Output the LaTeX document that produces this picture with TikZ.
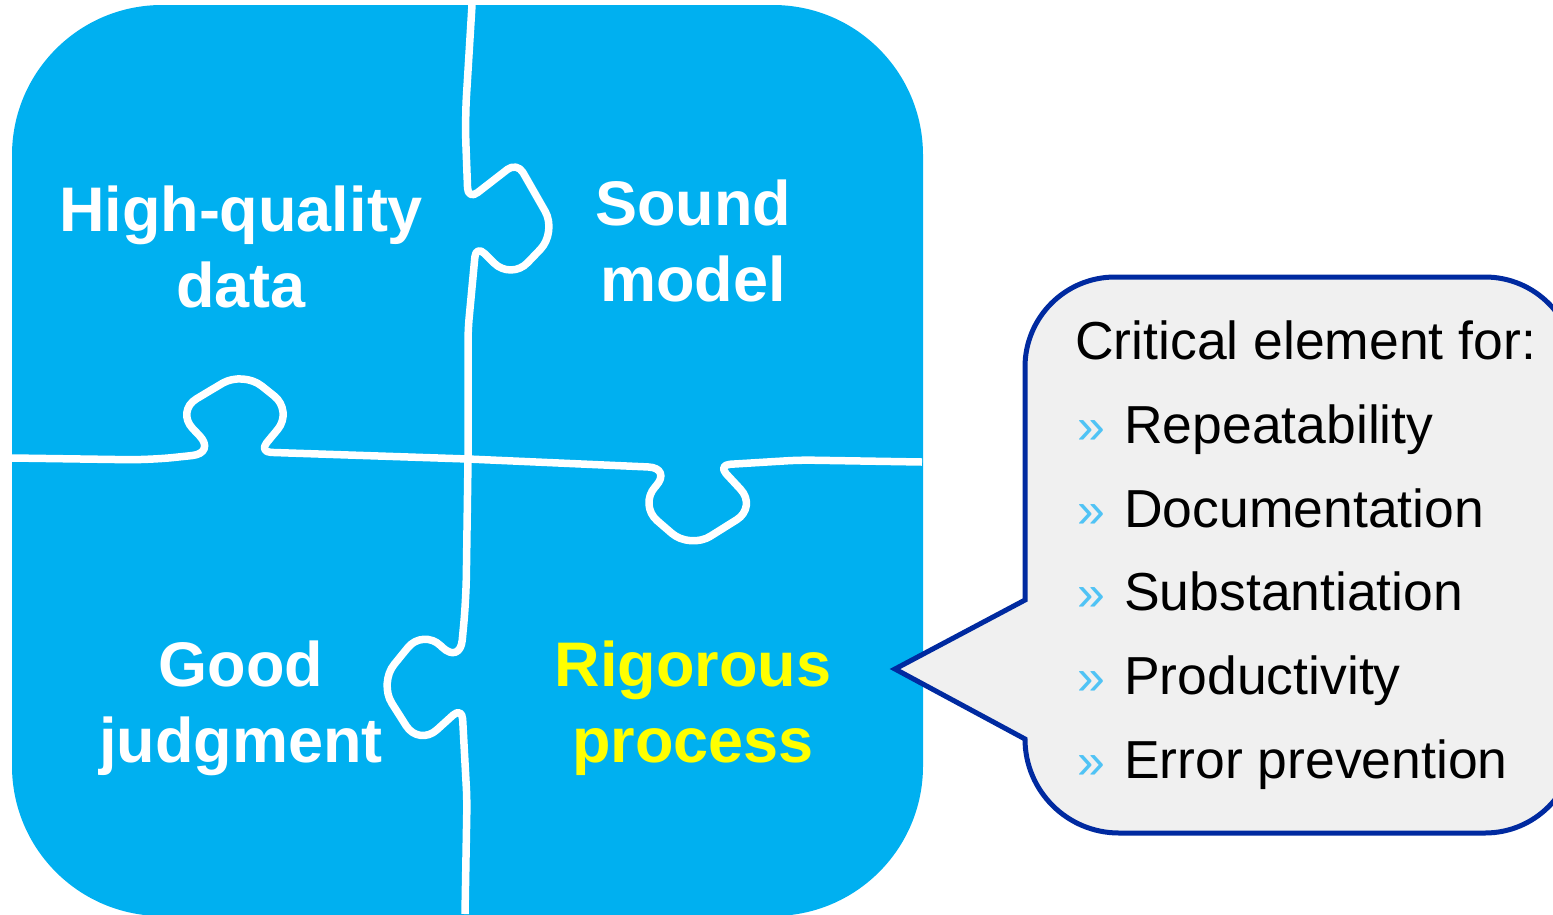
\documentclass[tikz,border=0pt]{standalone}
\usepackage{fontspec}
\setmainfont{Liberation Sans}
\definecolor{puzblue}{RGB}{0,176,240}
\definecolor{calloutborder}{RGB}{0,42,160}
\definecolor{calloutfill}{RGB}{240,240,240}
\definecolor{bulletblue}{RGB}{80,195,245}
\newcommand{\mybul}{{\color{bulletblue}\fontsize{50}{50}\selectfont »}}
\begin{document}
\begin{tikzpicture}[x=1pt,y=-1pt,
  puzzletext/.style={font=\fontsize{63}{76}\selectfont\bfseries, text=white, align=center, inner sep=0pt, anchor=base},
  cut/.style={draw=white, line width=7.5pt, rounded corners=24pt, line cap=butt, line join=round},
  callouttext/.style={font=\fontsize{53.5}{64}\selectfont, text=black, inner sep=0pt, anchor=base west},
  callout/.style={draw=calloutborder, fill=calloutfill, line width=5pt, line join=miter}
]
\useasboundingbox (0,0) rectangle (1553,914);
\clip (0,0) rectangle (1553,914);
% puzzle square
\fill[puzblue, rounded corners=150pt] (12,5) rectangle (923,916);
% cut lines
\draw[cut] (472,5) -- (465,120) [rounded corners=12pt] -- (468,200) -- (517,162) [rounded corners=24pt] -- (557,232) -- (511,280) [rounded corners=12pt] -- (476,245) -- (468,330) -- (468,460);
\draw[cut] (468,460) -- (466,600) -- (460,664) [rounded corners=24pt] -- (423,629) -- (379,683) -- (419,746) [rounded corners=12pt] -- (462,707) -- (467,800) -- (465,914);
\draw[cut] (12,458) -- (150,460) -- (216,453) [rounded corners=24pt] -- (176,411) -- (243,371) -- (293,411) [rounded corners=12pt] -- (259,452) -- (468,459);
\draw[cut] (468,459) -- (672,468) [rounded corners=24pt] -- (639,505) -- (690,549) -- (757,507) [rounded corners=12pt] -- (718,465) -- (800,460) -- (922,462);
% puzzle texts
\node[puzzletext] (hq) at (241,307) {High-quality\\data};
\node[puzzletext] (sm) at (693,301) {Sound\\model};
\node[puzzletext] (gj) at (241,762) {Good\\judgment};
\node[puzzletext, text={rgb,255:red,255;green,255;blue,0}] (rp) at (693,762) {Rigorous\\process};
% callout
\draw[callout] (1025,600) -- (1025,367) arc[start angle=180, end angle=270, radius=90]
  -- (1485,277) arc[start angle=270, end angle=360, radius=90]
  -- (1575,743) arc[start angle=0, end angle=90, radius=90]
  -- (1119,833) arc[start angle=90, end angle=180, radius=94]
  -- (895,669) -- cycle;
\node[callouttext] (title) at (1075,359.4) {Critical element for:};
\node[callouttext] (i1) at (1077,443.2) {\makebox[47pt][l]{\mybul}Repeatability};
\node[callouttext] (i2) at (1077,527) {\makebox[47pt][l]{\mybul}Documentation};
\node[callouttext] (i3) at (1077,610.8) {\makebox[47pt][l]{\mybul}Substantiation};
\node[callouttext] (i4) at (1077,694.6) {\makebox[47pt][l]{\mybul}Productivity};
\node[callouttext] (i5) at (1077,778.4) {\makebox[47pt][l]{\mybul}Error prevention};
\end{tikzpicture}
\end{document}
